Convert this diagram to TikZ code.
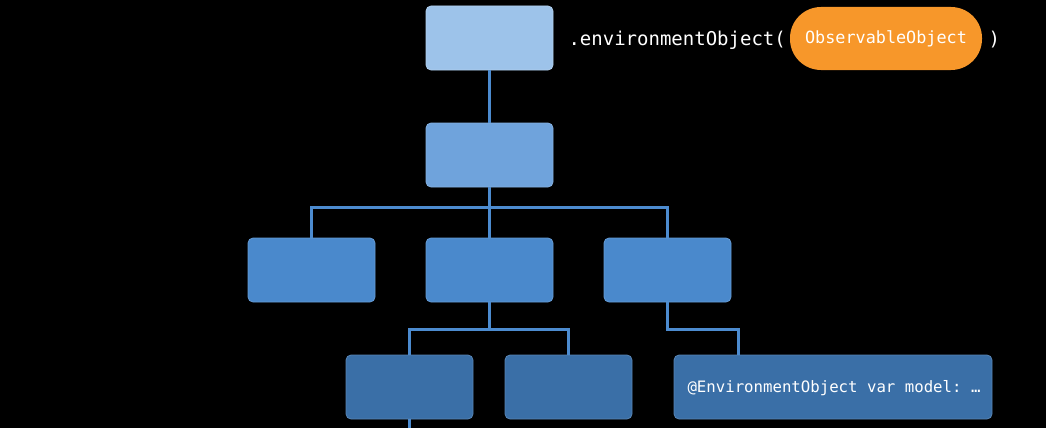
\documentclass[tikz,border=0pt]{standalone}
\usepackage{fontspec}
\setmonofont{DejaVu Sans Mono}
\usetikzlibrary{positioning}
\definecolor{lvzero}{HTML}{9DC3EA}
\definecolor{lvone}{HTML}{6FA3DC}
\definecolor{lvtwo}{HTML}{4A89CC}
\definecolor{lvthree}{HTML}{3A6FA7}
\definecolor{wire}{HTML}{4C8BCF}
\definecolor{pill}{HTML}{F7972A}

\begin{document}
\begin{tikzpicture}[x=1pt,y=-1pt,line width=3pt,draw=wire]
	\def \rowzeroht{38}
	\def \rowoneht{155}
	\def \rowtwoht{270}
	\def \rowthreeht{387}
	\tikzstyle{v-node}=[rectangle,rounded corners=5pt,line width=0.8pt,inner sep=0pt,minimum width=127pt,minimum height=64pt]
	\tikzstyle{code}=[text=white,inner sep=0pt,font=\ttfamily\fontsize{19}{19}\selectfont]
	% background
	\fill[black] (0,0) rectangle (1046,428);
	\useasboundingbox (0,0) rectangle (1046,428);

	% root
	\node[v-node,fill=lvzero,draw=lvzero!80!white]	(v0)	at (489.5,\rowzeroht)	{};
	\node[v-node,fill=lvone,draw=lvone!85!white]	(v1)	at (489.5,\rowoneht)	{};

	% middle row
	\node[v-node,fill=lvtwo,draw=lvtwo!85!white]	(r0)	at (311.5,\rowtwoht)	{};
	\node[v-node,fill=lvtwo,draw=lvtwo!85!white]	(r1)	at (489.5,\rowtwoht)	{};
	\node[v-node,fill=lvtwo,draw=lvtwo!85!white]	(r2)	at (667.5,\rowtwoht)	{};

	% bottom row
	\node[v-node,fill=lvthree,draw=lvthree!85!white]	(s0)	at (409.5,\rowthreeht)	{};
	\node[v-node,fill=lvthree,draw=lvthree!85!white]	(s1)	at (568.5,\rowthreeht)	{};
	\node[v-node,fill=lvthree,draw=lvthree!85!white,minimum width=318pt]	(s2)	at (833,\rowthreeht)	{};

	% texts
	\node[code,anchor=base west]	(mod)	at (567,46)	{.environmentObject(};
	\node[rectangle,rounded corners=31pt,fill=pill,minimum width=192pt,minimum height=63pt,inner sep=0pt,text=white,font=\ttfamily\fontsize{16.8}{16.8}\selectfont]	(obs)	at (886,38.5)	{ObservableObject};
	\node[code,anchor=base west]	(close)	at (987,46)	{)};
	\node[code,anchor=base west,font=\ttfamily\fontsize{15.7}{15.7}\selectfont]	(decl)	at (686,392)	{@EnvironmentObject var model: …};

	% connectors
	\coordinate (j1) at (489.5,207);
	\coordinate (j2) at (489.5,329);
	\coordinate (k2) at (738,329);
	\coordinate (tail) at (409.5,428);
	\draw (v0.south) -- (v1.north);
	\draw (v1.south) -- (j1);
	\draw (r0.north) |- (j1) -| (r2.north);
	\draw (j1) -- (r1.north);
	\draw (r1.south) -- (j2);
	\draw (s0.north) |- (j2) -| (s1.north);
	\draw (r2.south) |- (k2) -- (k2 |- s2.north);
	\draw (s0.south) -- (tail);
\end{tikzpicture}
\end{document}
